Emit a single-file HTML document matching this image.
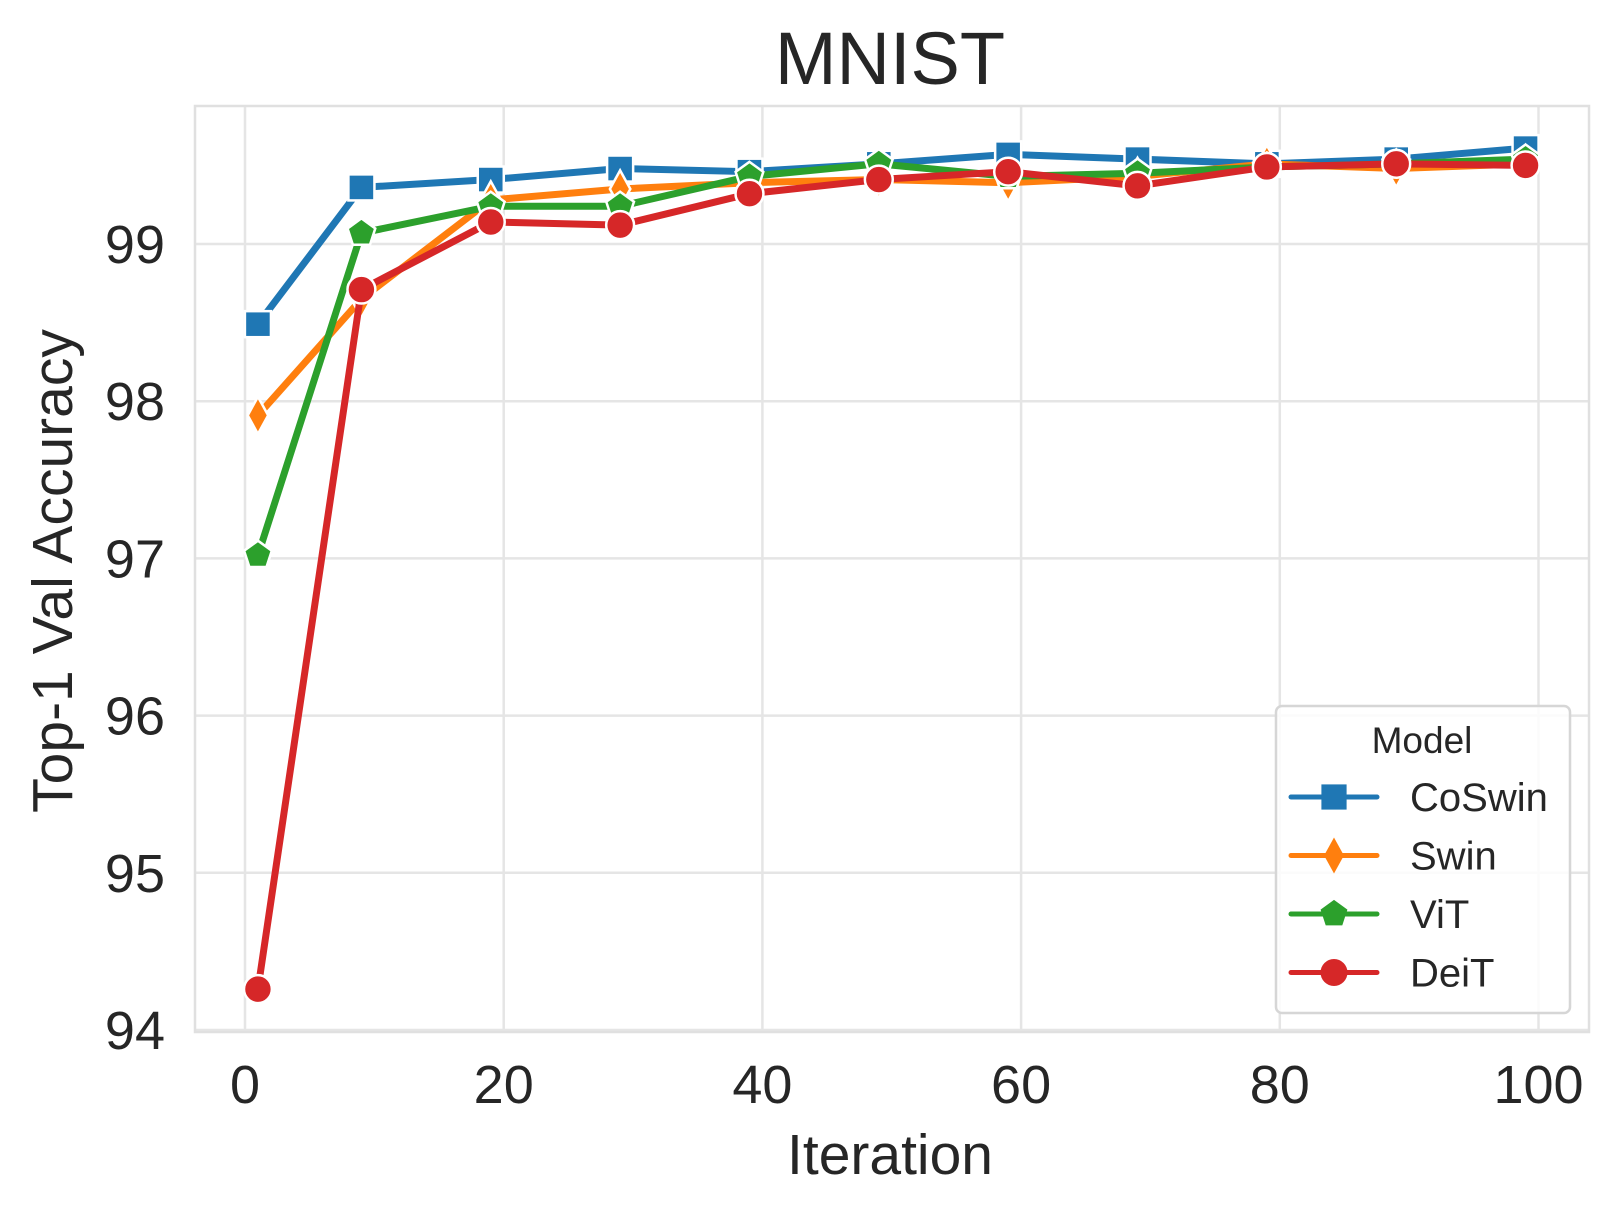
<!DOCTYPE html>
<html><head><meta charset="utf-8"><style>
html,body{margin:0;padding:0;background:#fff;}
svg{display:block;font-family:"Liberation Sans",Arial,sans-serif;}
</style></head><body>
<svg id="chart" width="1620" height="1216" viewBox="0 0 1620 1216">
<rect x="0" y="0" width="1620" height="1216" fill="#fff"/>
<g id="grid"></g>
<rect x="195" y="106" width="1394" height="926" fill="none" stroke="#e0e0e0" stroke-width="2.5"/>
<g id="ticks"></g>
<g id="series"></g>
<text x="890" y="84" font-size="74" text-anchor="middle" fill="#262626">MNIST</text>
<text x="890" y="1174" font-size="57" text-anchor="middle" fill="#262626">Iteration</text>
<text x="0" y="0" font-size="57" text-anchor="middle" fill="#262626" transform="translate(72,571) rotate(-90)">Top-1 Val Accuracy</text>
<g id="legend">
<rect x="1276" y="706" width="294" height="307" rx="6" fill="#fff" fill-opacity="0.85" stroke="#d6d6d6" stroke-width="2.5"/>
<text x="1422" y="753" font-size="37" text-anchor="middle" fill="#262626">Model</text>
</g>
</svg>
<script>
const iterations = [1, 9, 19, 29, 39, 49, 59, 69, 79, 89, 99];
const seriesNames = ["CoSwin", "Swin", "ViT", "DeiT"];
const coswin = [98.49, 99.36, 99.41, 99.48, 99.46, 99.51, 99.57, 99.54, 99.51, 99.54, 99.61];
const swin = [97.91, 98.65, 99.28, 99.35, 99.39, 99.41, 99.39, 99.43, 99.51, 99.48, 99.51];
const vit = [97.02, 99.07, 99.24, 99.24, 99.43, 99.51, 99.43, 99.45, 99.49, 99.51, 99.54];
const deit = [94.26, 98.71, 99.14, 99.12, 99.32, 99.41, 99.46, 99.37, 99.49, 99.51, 99.50];
const xTicks = [0, 20, 40, 60, 80, 100];
const yTicks = [94, 95, 96, 97, 98, 99];

const NS = "http://www.w3.org/2000/svg";
function xs(v){ return 245 + (v - 0) * 12.935; }
function ys(v){ return 244 - (v - 99) * 157.2; }
function mk(tag, attrs, parent){ const e = document.createElementNS(NS, tag); for (const k in attrs) e.setAttribute(k, attrs[k]); parent.appendChild(e); return e; }

const grid = document.getElementById('grid');
const ticks = document.getElementById('ticks');
xTicks.forEach(t => {
  const l = mk('line', {x1: xs(t), x2: xs(t), y1: 106, y2: 1032, stroke: '#e5e5e5', 'stroke-width': 2.5}, grid);
  
  
  const tx = mk('text', {x: xs(t), y: 1103, 'font-size': 54, 'text-anchor': 'middle', fill: '#262626'}, ticks);
  tx.textContent = t;
  
  
});
yTicks.forEach(t => {
  const l = mk('line', {x1: 195, x2: 1589, y1: ys(t), y2: ys(t), stroke: '#e5e5e5', 'stroke-width': 2.5}, grid);
  
  
  const tx = mk('text', {x: 165, y: ys(t) + 19, 'font-size': 54, 'text-anchor': 'end', fill: '#262626'}, ticks);
  tx.textContent = t;
  
  
});

const colors = ["#1f77b4", "#ff7f0e", "#2ca02c", "#d62728"];
const shapes = ["square", "diamond", "pentagon", "circle"];
const allData = [coswin, swin, vit, deit];

function marker(g, shape, cx, cy, s, color){
  let e;
  if (shape === 'square') e = mk('rect', {x: cx - s*0.42, y: cy - s*0.42, width: s*0.84, height: s*0.84}, g);
  else if (shape === 'circle') e = mk('circle', {cx: cx, cy: cy, r: s*0.45}, g);
  else if (shape === 'diamond') e = mk('polygon', {points: `${cx},${cy - s*0.6} ${cx + s*0.33},${cy} ${cx},${cy + s*0.6} ${cx - s*0.33},${cy}`}, g);
  else {
    const pts = [];
    for (let i = 0; i < 5; i++){ const a = -Math.PI/2 + i * 2*Math.PI/5; pts.push((cx + s*0.47*Math.cos(a)) + ',' + (cy + s*0.47*Math.sin(a))); }
    e = mk('polygon', {points: pts.join(' ')}, g);
  }
  e.setAttribute('fill', color);
  e.setAttribute('stroke', '#fff');
  e.setAttribute('stroke-width', 2.5);
  return e;
}

const sg = document.getElementById('series');
allData.forEach((vals, si) => {
  const g = mk('g', {}, sg);
  
  
  const d = vals.map((v, i) => (i ? 'L' : 'M') + xs(iterations[i]) + ' ' + ys(v)).join(' ');
  const p = mk('path', {d: d, fill: 'none', stroke: colors[si], 'stroke-width': 7, 'stroke-linejoin': 'round', 'stroke-linecap': 'round'}, g);
  
  
  vals.forEach((v, i) => {
    const m = marker(g, shapes[si], xs(iterations[i]), ys(v), 31, colors[si]);
    
    
  });
});

const lg = document.getElementById('legend');
seriesNames.forEach((n, i) => {
  const y = 797 + i * 58.5;
  const g = mk('g', {}, lg);
  
  
  mk('line', {x1: 1291, x2: 1377, y1: y, y2: y, stroke: colors[i], 'stroke-width': 5, 'stroke-linecap': 'round'}, g);
  const m = marker(g, shapes[i], 1334, y, 30, colors[i]);
  m.setAttribute('stroke', 'none');
  const t = mk('text', {x: 1410, y: y + 14, 'font-size': 40, fill: '#262626'}, g);
  t.textContent = n;
});
</script>
</body></html>
